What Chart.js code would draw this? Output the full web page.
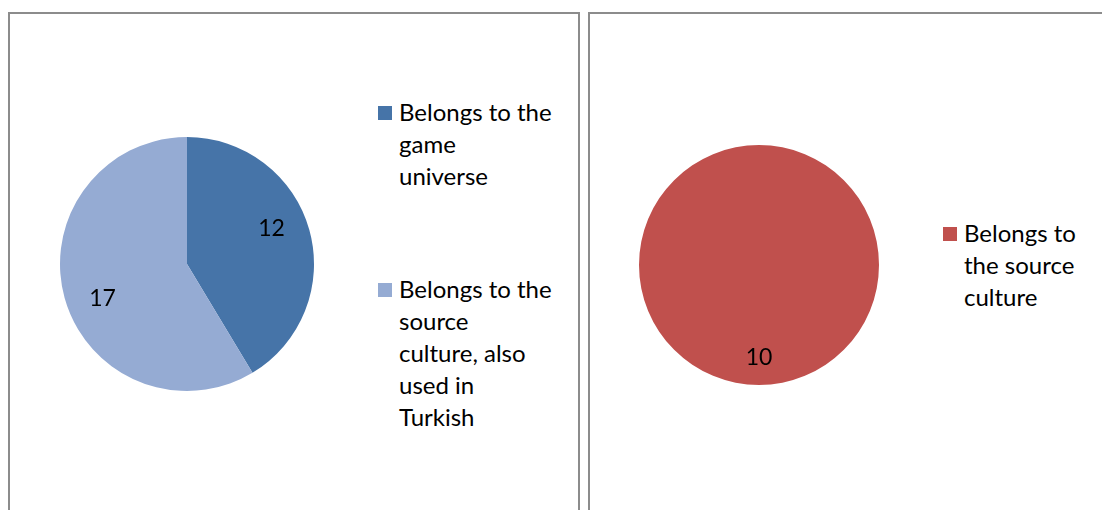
<!DOCTYPE html>
<html>
<head>
<meta charset="utf-8">
<script src="https://cdn.jsdelivr.net/npm/chart.js@4.4.1/dist/chart.umd.min.js"></script>
<style>
  body { margin: 0; width: 1102px; height: 510px; overflow: hidden; background: #fff; font-family: Lato, "Open Sans", sans-serif; }
  .panel { position: absolute; border: 2px solid #8c8c8c; box-sizing: border-box; }
  #panelA { left: 8px; top: 12px; width: 572px; height: 520px; }
  #panelB { left: 588px; top: 12px; width: 540px; height: 520px; }
  canvas { position: absolute; }
  .legend { position: absolute; font-size: 24px; color: #000; }
  .item { position: relative; padding-left: 21px; line-height: 32px; }
  .item span.box { position: absolute; left: 0; top: 10px; width: 14px; height: 14px; }
</style>
</head>
<body>
<div class="panel" id="panelA"></div>
<div class="panel" id="panelB"></div>
<canvas id="pieA" width="294" height="294" style="left:40px;top:117px"></canvas>
<canvas id="pieB" width="280" height="280" style="left:619px;top:125px"></canvas>
<div class="legend" id="legendA" style="left:378px;top:96px"></div>
<div class="legend" id="legendB" style="left:943px;top:217px"></div>
<script>
// left chart
const labelsA = [
  ['Belongs to the', 'game', 'universe'],
  ['Belongs to the', 'source', 'culture, also', 'used in', 'Turkish']
];
const valuesA = [12, 17];
const colorsA = ['#4674A8', '#95ABD3'];

// right chart
const labelsB = [['Belongs to', 'the source', 'culture']];
const valuesB = [10];
const colorsB = ['#C0504D'];

const valueLabels = {
    id: 'valueLabels',
    afterDatasetsDraw(chart, args, opts) {
        const ctx = chart.ctx;
        const meta = chart.getDatasetMeta(0);
        ctx.save();
        ctx.font = '23px Lato, "Open Sans", sans-serif';
        ctx.fillStyle = '#000';
        ctx.textAlign = 'center';
        ctx.textBaseline = 'middle';
        meta.data.forEach((arc, i) => {
            const p = arc.getProps(['x', 'y', 'startAngle', 'endAngle', 'outerRadius']);
            const mid = (p.startAngle + p.endAngle) / 2 + opts.rotate * Math.PI / 180;
            const r = p.outerRadius * opts.frac;
            ctx.fillText(chart.data.datasets[0].data[i], p.x + Math.cos(mid) * r, p.y + Math.sin(mid) * r);
        });
        ctx.restore();
    }
};

function crearPie(id, labels, values, colors, frac, rotate) {
    return new Chart(document.getElementById(id), {
        type: 'pie',
        data: {
            labels: labels,
            datasets: [{
                data: values,
                backgroundColor: colors,
                borderWidth: 0
            }]
        },
        options: {
            responsive: false,
            animation: false,
            layout: { padding: 20 },
            plugins: {
                legend: { display: false },
                tooltip: { enabled: false },
                valueLabels: { frac: frac, rotate: rotate }
            }
        },
        plugins: [valueLabels]
    });
}

function dibujarLeyenda(id, chart, gap) {
    const area = document.getElementById(id);
    const ds = chart.data.datasets[0];
    chart.data.labels.forEach((lab, i) => {
        const div = document.createElement('div');
        div.className = 'item';
        if (i > 0) div.style.marginTop = gap + 'px';
        div.innerHTML = `<span class="box" style="background:${ds.backgroundColor[i]}"></span>` + lab.join('<br>');
        area.appendChild(div);
    });
}

const pieA = crearPie('pieA', labelsA, valuesA, colorsA, 0.72, -7);
const pieB = crearPie('pieB', labelsB, valuesB, colorsB, 0.77, 0);
dibujarLeyenda('legendA', pieA, 81);
dibujarLeyenda('legendB', pieB, 0);
</script>
</body>
</html>
